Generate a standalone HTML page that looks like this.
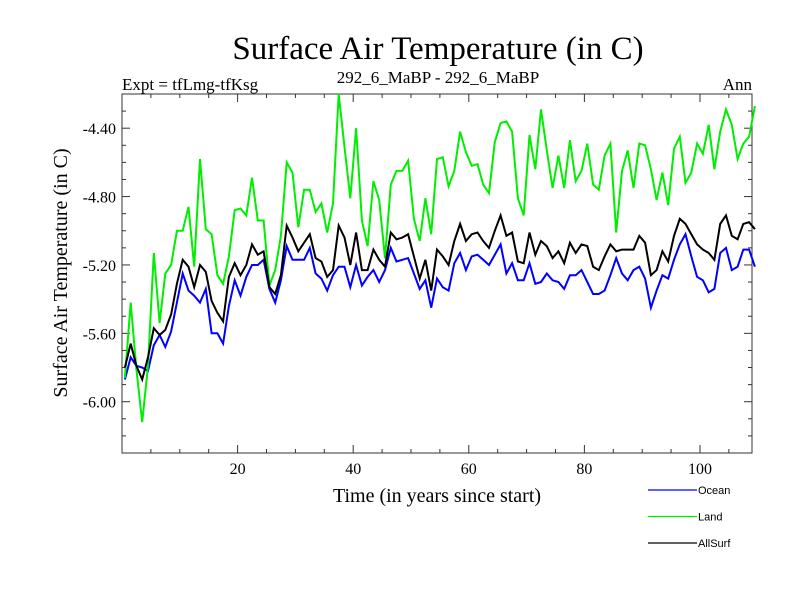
<!DOCTYPE html>
<html><head><meta charset="utf-8"><style>
html,body{margin:0;padding:0;background:#fff;}
svg{display:block;font-family:"Liberation Serif",serif;}
</style></head><body>
<svg id="chart" width="800" height="600" viewBox="0 0 800 600">
<text x="438" y="59" font-size="33" text-anchor="middle">Surface Air Temperature (in C)</text>
<text x="122" y="90" font-size="17">Expt = tfLmg-tfKsg</text>
<text x="438" y="83" font-size="17" text-anchor="middle">292_6_MaBP - 292_6_MaBP</text>
<text x="752" y="90" font-size="17" text-anchor="end">Ann</text>
<text x="437" y="502" font-size="20" text-anchor="middle">Time (in years since start)</text>
<text transform="translate(67,273) rotate(-90)" font-size="20" text-anchor="middle">Surface Air Temperature (in C)</text>
<g id="axes"></g>
<g id="series"></g>
<g id="legend"></g>
</svg>
<script>
const years = Array.from({length:110},(_,i)=>i+0.5);
const ocean = [-5.87,-5.74,-5.79,-5.80,-5.82,-5.67,-5.61,-5.68,-5.59,-5.42,-5.25,-5.35,-5.38,-5.42,-5.34,-5.60,-5.60,-5.66,
-5.44,-5.29,-5.38,-5.27,-5.20,-5.20,-5.17,-5.34,-5.42,-5.29,-5.09,-5.17,-5.17,-5.17,-5.10,-5.25,-5.28,-5.35,-5.26,
-5.21,-5.21,-5.33,-5.20,-5.32,-5.27,-5.23,-5.30,-5.23,-5.10,-5.18,-5.17,-5.16,-5.25,-5.34,-5.29,-5.45,-5.28,
-5.33,-5.35,-5.19,-5.13,-5.23,-5.15,-5.14,-5.17,-5.20,-5.14,-5.08,-5.25,-5.19,-5.29,-5.29,-5.19,-5.31,-5.30,
-5.25,-5.29,-5.30,-5.34,-5.26,-5.26,-5.23,-5.30,-5.37,-5.37,-5.35,-5.26,-5.16,-5.25,-5.29,-5.23,-5.21,-5.28,
-5.45,-5.35,-5.26,-5.28,-5.17,-5.08,-5.02,-5.15,-5.27,-5.29,-5.36,-5.34,-5.13,-5.10,-5.23,-5.21,-5.11,-5.11,-5.21];
const land = [-5.86,-5.42,-5.81,-6.12,-5.79,-5.13,-5.54,-5.25,-5.20,-5.00,-5.00,-4.86,-5.21,-4.58,-4.99,-5.02,-5.26,-5.31,
-5.15,-4.88,-4.87,-4.91,-4.69,-4.94,-4.94,-5.32,-5.23,-5.03,-4.60,-4.66,-4.98,-4.76,-4.76,-4.89,-4.84,-5.01,-4.84,
-4.20,-4.51,-4.81,-4.40,-4.94,-5.09,-4.71,-4.82,-5.16,-4.73,-4.65,-4.65,-4.59,-4.93,-5.06,-4.81,-5.02,-4.58,
-4.57,-4.74,-4.65,-4.42,-4.54,-4.62,-4.61,-4.73,-4.78,-4.48,-4.37,-4.36,-4.42,-4.81,-4.91,-4.44,-4.64,-4.29,
-4.53,-4.75,-4.56,-4.75,-4.47,-4.71,-4.65,-4.49,-4.73,-4.76,-4.56,-4.49,-5.01,-4.65,-4.53,-4.75,-4.49,-4.50,
-4.64,-4.82,-4.66,-4.85,-4.52,-4.45,-4.72,-4.66,-4.49,-4.55,-4.38,-4.64,-4.42,-4.29,-4.38,-4.58,-4.49,-4.45,-4.27];
const allsurf = [-5.80,-5.66,-5.79,-5.87,-5.74,-5.57,-5.61,-5.58,-5.49,-5.31,-5.17,-5.21,-5.33,-5.20,-5.24,-5.41,-5.48,-5.53,
-5.27,-5.19,-5.26,-5.20,-5.08,-5.14,-5.12,-5.33,-5.37,-5.26,-4.97,-5.04,-5.12,-5.07,-5.02,-5.16,-5.18,-5.27,-5.23,
-4.97,-5.04,-5.20,-5.01,-5.23,-5.23,-5.11,-5.17,-5.21,-5.01,-5.05,-5.04,-5.02,-5.15,-5.28,-5.17,-5.35,-5.11,
-5.15,-5.20,-5.06,-4.96,-5.06,-5.02,-5.01,-5.06,-5.10,-5.00,-4.91,-5.03,-5.01,-5.18,-5.19,-5.01,-5.14,-5.06,
-5.09,-5.16,-5.12,-5.19,-5.07,-5.13,-5.08,-5.09,-5.21,-5.23,-5.15,-5.08,-5.12,-5.11,-5.11,-5.11,-5.03,-5.07,
-5.26,-5.23,-5.12,-5.18,-5.03,-4.93,-4.96,-5.02,-5.08,-5.11,-5.13,-5.17,-4.96,-4.91,-5.03,-5.05,-4.96,-4.95,-4.99];
const seriesNames = ["Ocean","Land","AllSurf"];
const seriesColors = ["#0000ff","#00ee00","#000000"];
const xTickLabels = [20,40,60,80,100];
const yTickLabels = [-4.4,-4.8,-5.2,-5.6,-6.0];

const NS="http://www.w3.org/2000/svg";
const L=122,R=752,T=94,B=453;
const xMin=0,xMax=109,yMin=-6.3,yMax=-4.2;
function sx(v){return L+(v-xMin)/(xMax-xMin)*(R-L);}
function sy(v){return B-(v-yMin)/(yMax-yMin)*(B-T);}
function mk(tag,attrs,parent){const e=document.createElementNS(NS,tag);for(const k in attrs)e.setAttribute(k,attrs[k]);parent.appendChild(e);return e;}

const axes=document.getElementById('axes');
const frame=mk('rect',{x:L,y:T,width:R-L,height:B-T,fill:'none',stroke:'#333','stroke-width':1},axes);


// x ticks (minor every 5, major every 20)
for(let v=5;v<xMax;v+=5){
  const x=sx(v),len=(v%20===0)?8:4;
  const t1=mk('line',{x1:x,y1:B,x2:x,y2:B-len,stroke:'#333'},axes);
  
  
  const t2=mk('line',{x1:x,y1:T,x2:x,y2:T+len,stroke:'#333'},axes);
  
  
}
xTickLabels.forEach(v=>{
  const t=mk('text',{x:sx(v),y:B+21,'font-size':16,'text-anchor':'middle'},axes);
  t.textContent=v;
  
  
});
// y ticks (minor every 0.1, major every 0.4)
for(let k=-62;k<=-43;k++){
  const v=k/10,y=sy(v),major=((k+44)%4===0);
  const len=major?8:4;
  const t1=mk('line',{x1:L,y1:y,x2:L+len,y2:y,stroke:'#333'},axes);
  
  
  const t2=mk('line',{x1:R,y1:y,x2:R-len,y2:y,stroke:'#333'},axes);
  
  
}
yTickLabels.forEach(v=>{
  const t=mk('text',{x:L-6,y:sy(v)+6,'font-size':16,'text-anchor':'end'},axes);
  t.textContent=v.toFixed(2);
  
  
});

const sg=document.getElementById('series');
[ocean,land,allsurf].forEach((arr,si)=>{
  const pts=arr.map((v,i)=>sx(years[i]).toFixed(1)+','+sy(v).toFixed(1)).join(' ');
  const p=mk('polyline',{points:pts,fill:'none',stroke:seriesColors[si],'stroke-width':2,'stroke-linejoin':'miter'},sg);
  
  
});

const lg=document.getElementById('legend');
seriesNames.forEach((n,i)=>{
  const y=490+i*26.5;
  const ln=mk('line',{x1:648,y1:y,x2:697,y2:y,stroke:seriesColors[i],'stroke-width':1.3},lg);
  
  
  const t=mk('text',{x:698,y:y+4,'font-size':11,'font-family':'Liberation Sans, sans-serif'},lg);
  t.textContent=n;
  
  
});
</script>
</body></html>
